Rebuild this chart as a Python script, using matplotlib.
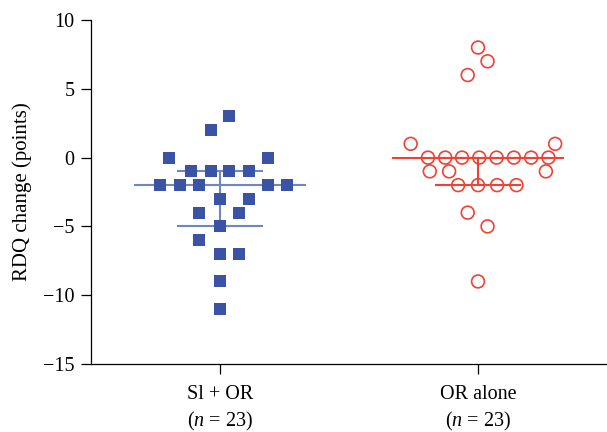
import matplotlib.pyplot as plt
import numpy as np

plt.rcParams['font.family'] = ['Liberation Serif', 'DejaVu Serif']
plt.rcParams['mathtext.fontset'] = 'custom'
plt.rcParams['mathtext.rm'] = 'Liberation Serif'
plt.rcParams['mathtext.it'] = 'Liberation Serif:italic'

# group labels
groups = ["Sl + OR\n($n$ = 23)", "OR alone\n($n$ = 23)"]

# Sl + OR (blue squares): x position (jittered around 1) and RDQ change
sl_x = [1.036, 0.964, 0.803, 1.187,
        0.888, 0.964, 1.036, 1.113,
        0.768, 0.845, 0.918, 1.187, 1.260,
        1.0, 1.113, 0.918, 1.075,
        1.0, 0.918, 1.0, 1.075, 1.0, 1.0]
sl_y = [3, 2, 0, 0,
        -1, -1, -1, -1,
        -2, -2, -2, -2, -2,
        -3, -3, -4, -4,
        -5, -6, -7, -7, -9, -11]

# OR alone (red open circles)
or_x = [2.0, 2.037, 1.96, 1.739, 2.299,
        1.806, 1.873, 1.938, 2.005, 2.072, 2.139, 2.206, 2.273,
        1.813, 1.888, 2.263,
        1.923, 2.0, 2.074, 2.149,
        1.96, 2.037, 2.0]
or_y = [8, 7, 6, 1, 1,
        0, 0, 0, 0, 0, 0, 0, 0,
        -1, -1, -1,
        -2, -2, -2, -2,
        -4, -5, -9]

blue = '#3a53a4'
blue_line = '#6f86c4'
red = '#ef4136'

fig = plt.figure(figsize=(6.07, 4.32), dpi=100)
ax = fig.add_axes([0.15, 0.1574, 0.85, 0.7963])

ax.scatter(sl_x, sl_y, marker='s', s=85, color=blue, linewidths=0, zorder=3)
ax.scatter(or_x, or_y, marker='o', s=85, facecolors='none', edgecolors=red,
           linewidths=1.2, zorder=3)

# median and interquartile range
for pos, vals, col in [(1, sl_y, blue_line), (2, or_y, red)]:
    q1, med, q3 = np.percentile(vals, [25, 50, 75], method='inverted_cdf')
    ax.hlines(med, pos - 1/3, pos + 1/3, color=col, lw=1.5, zorder=2)
    ax.hlines([q1, q3], pos - 1/6, pos + 1/6, color=col, lw=1.5, zorder=2)
    ax.vlines(pos, q1, q3, color=col, lw=1.5, zorder=2)

ax.set_xlim(0.5, 2.5)
ax.set_ylim(-15, 10)
ax.set_yticks([-15, -10, -5, 0, 5, 10])
ax.set_xticks([1, 2])
ax.set_xticklabels(groups, linespacing=1.35)
ax.set_ylabel("RDQ change (points)", fontsize=15)
ax.yaxis.set_label_coords(-0.115, 0.5)

for side in ['top', 'right']:
    ax.spines[side].set_visible(False)
for side in ['left', 'bottom']:
    ax.spines[side].set_linewidth(0.9)
ax.tick_params(direction='out', length=7, width=0.9, labelsize=14.5, pad=5)
ax.tick_params(axis='x', pad=8)

fig.savefig("out.png", dpi=100)
